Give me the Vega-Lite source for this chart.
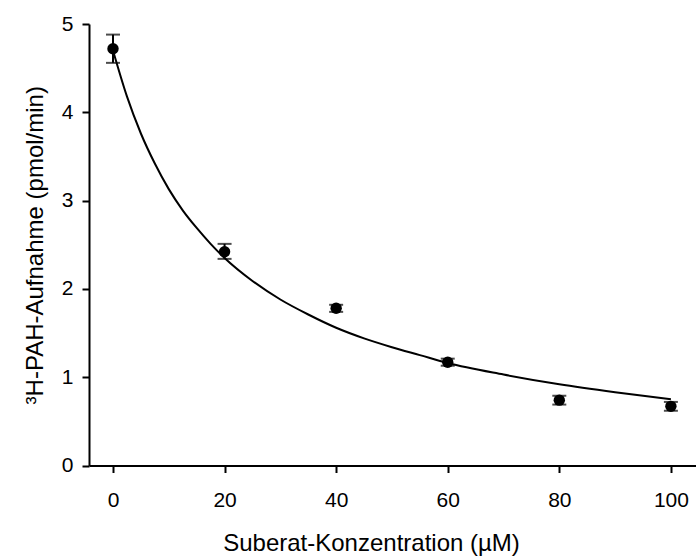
{
  "$schema": "https://vega.github.io/schema/vega-lite/v6.json",
  "width": 607,
  "height": 441.5,
  "autosize": {"type": "none"},
  "padding": {"left": 89, "top": 24, "right": 0, "bottom": 91.5},
  "background": "white",
  "config": {
    "view": {"stroke": null},
    "font": "Liberation Sans",
    "axis": {
      "domainColor": "black",
      "domainWidth": 2,
      "tickColor": "black",
      "tickWidth": 2,
      "tickSize": 7,
      "grid": false,
      "labelColor": "black",
      "labelFont": "Liberation Sans",
      "labelFontSize": 21,
      "titleColor": "black",
      "titleFont": "Liberation Sans",
      "titleFontSize": 24,
      "titleFontWeight": "normal"
    }
  },
  "datasets": {
    "points": [
      {"x": 0, "y": 4.72, "lo": 4.56, "hi": 4.88},
      {"x": 20, "y": 2.42, "lo": 2.34, "hi": 2.51},
      {"x": 40, "y": 1.78, "lo": 1.74, "hi": 1.82},
      {"x": 60, "y": 1.17, "lo": 1.13, "hi": 1.21},
      {"x": 80, "y": 0.74, "lo": 0.69, "hi": 0.79},
      {"x": 100, "y": 0.67, "lo": 0.62, "hi": 0.72}
    ],
    "curve": [
      {"x": 0, "y": 4.7},
      {"x": 2.5, "y": 4.18},
      {"x": 5, "y": 3.76},
      {"x": 7.5, "y": 3.42},
      {"x": 10, "y": 3.13},
      {"x": 12.5, "y": 2.89},
      {"x": 15, "y": 2.69},
      {"x": 17.5, "y": 2.51},
      {"x": 20, "y": 2.35},
      {"x": 25, "y": 2.09},
      {"x": 30, "y": 1.88},
      {"x": 35, "y": 1.71},
      {"x": 40, "y": 1.56},
      {"x": 45, "y": 1.44},
      {"x": 50, "y": 1.34},
      {"x": 55, "y": 1.25},
      {"x": 60, "y": 1.16},
      {"x": 70, "y": 1.03},
      {"x": 80, "y": 0.92},
      {"x": 90, "y": 0.83},
      {"x": 100, "y": 0.75}
    ]
  },
  "layer": [
    {
      "data": {"name": "curve"},
      "mark": {"type": "line", "color": "black", "strokeWidth": 2, "interpolate": "monotone"},
      "encoding": {
        "x": {
          "field": "x", "type": "quantitative",
          "scale": {"domain": [-4.3, 104.5], "nice": false, "zero": false},
          "axis": {"values": [0, 20, 40, 60, 80, 100], "format": "d", "title": "Suberat-Konzentration (µM)", "labelPadding": 17, "titlePadding": 21, "titleX": 282}
        },
        "y": {
          "field": "y", "type": "quantitative",
          "scale": {"domain": [0, 5], "nice": false},
          "axis": {"values": [0, 1, 2, 3, 4, 5], "format": "d", "title": "³H-PAH-Aufnahme (pmol/min)", "labelPadding": 9, "titlePadding": 14}
        }
      }
    },
    {
      "data": {"name": "points"},
      "mark": {"type": "rule", "color": "black", "strokeWidth": 2},
      "encoding": {
        "x": {"field": "x", "type": "quantitative"},
        "y": {"field": "lo", "type": "quantitative"},
        "y2": {"field": "hi"}
      }
    },
    {
      "data": {"name": "points"},
      "mark": {"type": "tick", "color": "black", "orient": "horizontal", "size": 14, "thickness": 2},
      "encoding": {
        "x": {"field": "x", "type": "quantitative"},
        "y": {"field": "lo", "type": "quantitative"}
      }
    },
    {
      "data": {"name": "points"},
      "mark": {"type": "tick", "color": "black", "orient": "horizontal", "size": 14, "thickness": 2},
      "encoding": {
        "x": {"field": "x", "type": "quantitative"},
        "y": {"field": "hi", "type": "quantitative"}
      }
    },
    {
      "data": {"name": "points"},
      "mark": {"type": "point", "filled": true, "color": "black", "opacity": 1, "size": 130},
      "encoding": {
        "x": {"field": "x", "type": "quantitative"},
        "y": {"field": "y", "type": "quantitative"}
      }
    },
    {
      "mark": {"type": "rule", "color": "black", "strokeWidth": 2},
      "encoding": {"y": {"datum": 5, "type": "quantitative"}}
    }
  ]
}
